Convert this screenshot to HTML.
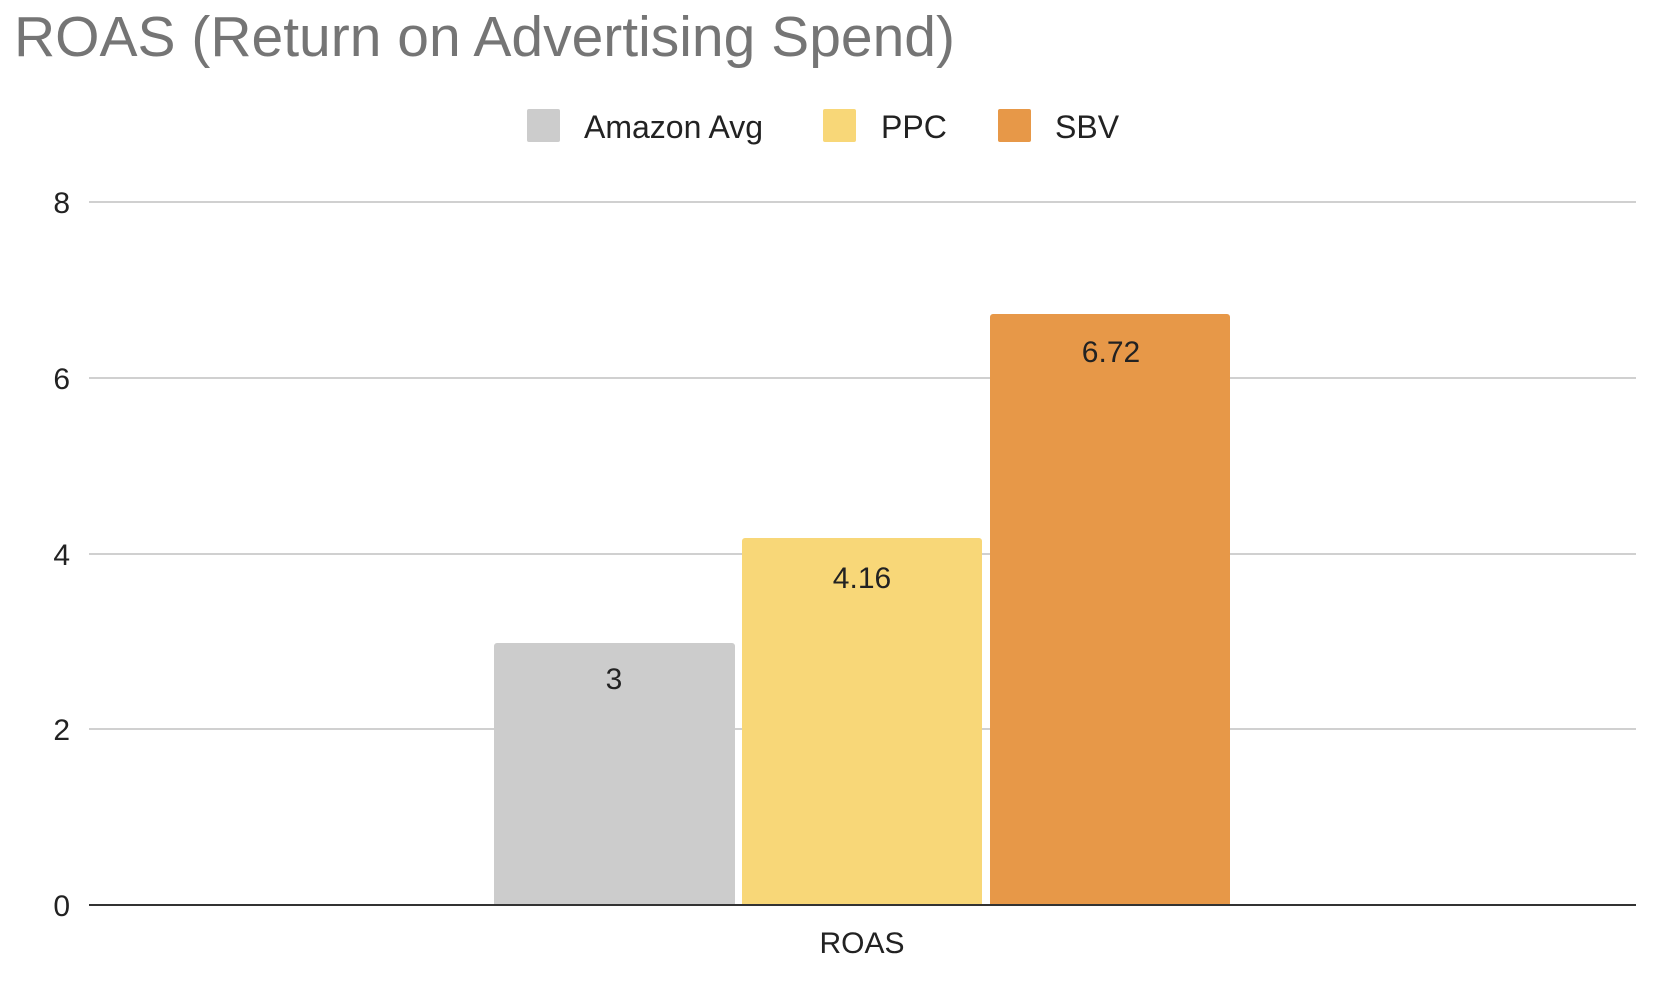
<!DOCTYPE html>
<html><head><style>body{margin:0;background:#fff}</style></head><body>
<svg width="1666" height="976" xmlns="http://www.w3.org/2000/svg" font-family="Liberation Sans, Arial, sans-serif">
<rect width="1666" height="976" fill="#fff"/>
<text x="14" y="56" font-size="57" fill="#757575">ROAS (Return on Advertising Spend)</text>
<rect x="527" y="109" width="33" height="33" rx="2" fill="#cccccc"/>
<text x="584" y="138" font-size="32" fill="#222">Amazon Avg</text>
<rect x="823" y="109" width="33" height="33" rx="2" fill="#f8d778"/>
<text x="881" y="138" font-size="32" fill="#222">PPC</text>
<rect x="998" y="109" width="33" height="33" rx="2" fill="#e79848"/>
<text x="1055" y="138" font-size="32" fill="#222">SBV</text>
<g stroke="#d0d0d0" stroke-width="2">
<line x1="89" x2="1636" y1="202" y2="202"/>
<line x1="89" x2="1636" y1="378" y2="378"/>
<line x1="89" x2="1636" y1="554" y2="554"/>
<line x1="89" x2="1636" y1="729" y2="729"/>
</g>
<g font-size="30" fill="#222" text-anchor="end">
<text x="70" y="213">8</text>
<text x="70" y="389">6</text>
<text x="70" y="565">4</text>
<text x="70" y="740">2</text>
<text x="70" y="916">0</text>
</g>
<path d="M494 905V646a3 3 0 0 1 3-3H732a3 3 0 0 1 3 3V905Z" fill="#cccccc"/>
<path d="M742 905V541a3 3 0 0 1 3-3H979a3 3 0 0 1 3 3V905Z" fill="#f8d778"/>
<path d="M990 905V317a3 3 0 0 1 3-3H1227a3 3 0 0 1 3 3V905Z" fill="#e79848"/>
<line x1="89" x2="1636" y1="905" y2="905" stroke="#333" stroke-width="2"/>
<g font-size="30" fill="#222" text-anchor="middle">
<text x="614" y="689">3</text>
<text x="862" y="588">4.16</text>
<text x="1111" y="362">6.72</text>
<text x="862" y="953">ROAS</text>
</g>
</svg>
</body></html>
